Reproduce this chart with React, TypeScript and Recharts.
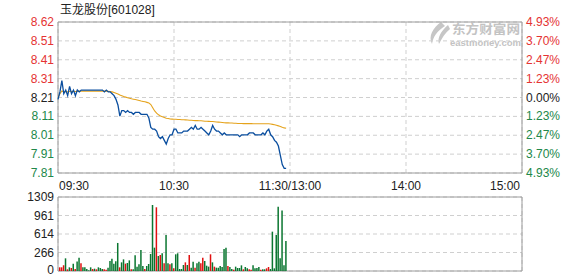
import React from 'react';
import {
  ComposedChart,
  Line,
  Bar,
  Cell,
  XAxis,
  YAxis,
  CartesianGrid,
  ReferenceArea,
} from 'recharts';

// ---- stock info ----
const stockName = '玉龙股份';
const stockCode = '601028';
const prevClose = 8.21;
const maxPct = 4.93;

// ---- axis labels ----
const priceLabels = ['8.62', '8.51', '8.41', '8.31', '8.21', '8.11', '8.01', '7.91', '7.81'];
const pctLabels = ['4.93%', '3.70%', '2.47%', '1.23%', '0.00%', '1.23%', '2.47%', '3.70%', '4.93%'];
const timeLabels = ['09:30', '10:30', '11:30/13:00', '14:00', '15:00'];
const timeTickIndex = [0, 60, 120, 180, 240];
const volLabels = ['0', '266', '614', '961', '1309'];
const volMax = 1309;
const totalMinutes = 240;

// ---- minute price (from 09:30) ----
const price = [
  8.20, 8.24, 8.30, 8.23, 8.25, 8.22, 8.27, 8.23, 8.25, 8.22,
  8.25, 8.24, 8.25, 8.25, 8.25, 8.25, 8.25, 8.25, 8.25, 8.25,
  8.25, 8.25, 8.25, 8.25, 8.24, 8.25, 8.24, 8.24, 8.23, 8.22,
  8.20, 8.17, 8.11, 8.14, 8.14, 8.13, 8.14, 8.13, 8.13, 8.12,
  8.13, 8.13, 8.13, 8.12, 8.12, 8.12, 8.12, 8.10, 8.05, 8.04,
  8.04, 8.03, 8.00, 7.99, 8.00, 7.98, 7.96, 7.99, 8.01, 8.01,
  8.04, 8.04, 8.02, 8.02, 8.02, 8.03, 8.03, 8.03, 8.04, 8.05,
  8.04, 8.06, 8.04, 8.04, 8.05, 8.04, 8.03, 8.02, 8.01, 8.03,
  8.06, 8.04, 8.03, 8.03, 8.02, 8.01, 8.02, 8.01, 8.01, 8.01,
  8.01, 8.01, 8.01, 8.01, 8.00, 8.01, 8.01, 8.01, 8.01, 8.02,
  8.02, 8.02, 8.01, 8.01, 8.01, 8.01, 8.02, 8.01, 8.03, 8.04,
  8.01, 8.00, 7.98, 7.97, 7.95, 7.90, 7.85, 7.83, 7.83,
];

// ---- average price ----
const avgPrice = [
  8.210, 8.230, 8.245, 8.240, 8.242, 8.240, 8.243, 8.242, 8.243, 8.242,
  8.243, 8.244, 8.244, 8.244, 8.244, 8.244, 8.244, 8.244, 8.244, 8.244,
  8.244, 8.244, 8.244, 8.244, 8.244, 8.244, 8.243, 8.242, 8.240, 8.237,
  8.233, 8.229, 8.223, 8.219, 8.215, 8.212, 8.209, 8.206, 8.203, 8.201,
  8.199, 8.197, 8.194, 8.191, 8.189, 8.187, 8.184, 8.181, 8.172, 8.155,
  8.138, 8.126, 8.117, 8.111, 8.107, 8.103, 8.099, 8.097, 8.095, 8.094,
  8.093, 8.093, 8.092, 8.092, 8.091, 8.091, 8.090, 8.089, 8.088, 8.088,
  8.087, 8.086, 8.086, 8.085, 8.085, 8.084, 8.083, 8.083, 8.082, 8.081,
  8.081, 8.080, 8.079, 8.078, 8.077, 8.076, 8.075, 8.074, 8.074, 8.073,
  8.073, 8.072, 8.072, 8.071, 8.071, 8.071, 8.070, 8.070, 8.070, 8.070,
  8.070, 8.069, 8.069, 8.069, 8.069, 8.069, 8.069, 8.069, 8.069, 8.069,
  8.068, 8.066, 8.064, 8.061, 8.058, 8.054, 8.050, 8.047, 8.045,
];

// ---- minute volume (from 09:31) ----
const volume = [
  65, 65, 100, 224, 30, 65, 53, 130, 35, 170,
  236, 136, 65, 65, 35, 12, 65, 35, 41, 30,
  65, 53, 35, 30, 24, 59, 177, 218, 130, 171,
  496, 65, 153, 206, 130, 142, 188, 30, 30, 277,
  77, 118, 372, 89, 35, 89, 124, 301, 1168, 413,
  1127, 265, 283, 313, 136, 637, 136, 118, 136, 47,
  295, 313, 35, 35, 106, 153, 106, 283, 59, 165,
  59, 136, 165, 136, 236, 177, 94, 77, 295, 153,
  77, 59, 59, 89, 71, 389, 413, 89, 71, 35,
  24, 77, 53, 53, 100, 30, 71, 47, 30, 24,
  100, 47, 53, 71, 24, 30, 30, 47, 71, 35,
  696, 47, 637, 1138, 224, 1068, 100, 531,
];

// 1 = up minute (red), 0 = down minute (green)
const volUp = [
  1, 1, 1, 0, 1, 0, 1, 0, 1, 0,
  0, 1, 0, 0, 0, 0, 0, 1, 0, 1,
  0, 0, 0, 1, 1, 0, 0, 0, 0, 0,
  0, 1, 0, 0, 1, 0, 0, 1, 0, 0,
  0, 0, 0, 0, 1, 0, 0, 0, 0, 0,
  1, 0, 1, 0, 1, 0, 0, 1, 0, 1,
  0, 0, 0, 0, 0, 1, 0, 1, 0, 0,
  1, 0, 0, 1, 1, 0, 0, 0, 1, 0,
  1, 0, 0, 0, 0, 0, 0, 1, 0, 0,
  1, 0, 0, 0, 0, 1, 0, 0, 1, 1,
  0, 0, 0, 0, 1, 0, 0, 1, 1, 0,
  0, 0, 0, 0, 0, 0, 0, 0,
];

// ---- palette ----
const RED = '#e53333';
const GREEN = '#21884a';
const DARK = '#222222';
const BAR_RED = '#e01010';
const BAR_GREEN = '#0a7630';
const GRID = '#cfcfcf';
const FRAME = '#9c9c9c';
const FONT = 'Arial, "Liberation Sans", sans-serif';
const CJK = '"Noto Sans CJK SC", "Noto Sans", sans-serif';

// ---- derived scales ----
const span = (prevClose * maxPct) / 100;
const priceHi = prevClose + span;
const priceLo = prevClose - span;
const priceStep = (priceHi - priceLo) / (priceLabels.length - 1);
const priceTicks = priceLabels.map((_, k) => priceHi - k * priceStep);
const volStep = volMax / (volLabels.length - 1);
const volTicks = volLabels.map((_, k) => k * volStep);

const lineRows = price.map((p, t) => ({ t, price: p, avg: avgPrice[t] }));
const volRows = volume.map((v, k) => ({ t: k + 1, vol: v, up: volUp[k] === 1 }));

const PriceTick = (props: any) => {
  const { y, payload } = props;
  const k = Math.round((priceHi - payload.value) / priceStep);
  const color = k < 4 ? RED : k === 4 ? DARK : GREEN;
  return (
    <g>
      <text x={54} y={y + 4} textAnchor="end" fill={color} fontSize={12} fontFamily={FONT}>
        {priceLabels[k]}
      </text>
      <text x={526} y={y + 4} textAnchor="start" fill={color} fontSize={12} fontFamily={FONT}>
        {pctLabels[k]}
      </text>
    </g>
  );
};

const TimeTick = (props: any) => {
  const { x, payload } = props;
  const k = timeTickIndex.indexOf(payload.value);
  const last = timeLabels.length - 1;
  const anchor = k === 0 ? 'start' : k === last ? 'end' : 'middle';
  const dx = k === 0 ? 1 : k === last ? -2 : 0;
  return (
    <text x={x + dx} y={190} textAnchor={anchor} fill={DARK} fontSize={12} fontFamily={FONT}>
      {timeLabels[k]}
    </text>
  );
};

const VolTick = (props: any) => {
  const { y, payload } = props;
  const k = Math.round(payload.value / volStep);
  const dy = k === 0 ? 3 : 4;
  return (
    <text x={54} y={y + dy} textAnchor="end" fill={DARK} fontSize={12} fontFamily={FONT}>
      {volLabels[k]}
    </text>
  );
};

export default function App() {
  return (
    <div
      style={{
        position: 'absolute',
        left: 0,
        top: 0,
        width: 578,
        height: 276,
        background: '#ffffff',
        overflow: 'hidden',
      }}
    >
      {/* title and watermark */}
      <svg width={578} height={276} style={{ position: 'absolute', left: 0, top: 0 }}>
        <text x={60} y={14} fontSize={12} fill={DARK} fontFamily={CJK}>
          {stockName}
          <tspan fontFamily={FONT}>[{stockCode}]</tspan>
        </text>
        <g fill="#c6c6c6">
          <path d="M441 22 C433 28 428 36 432 44 C433 37 437 31 445 26 Z" />
          <path d="M448 25 C441 31 437 38 439 44 C442 38 445 33 450 29 Z" />
        </g>
        <text
          x={452}
          y={34}
          fontSize={12.5}
          fontWeight="bold"
          fill="#c3c3c3"
          fontFamily={CJK}
          textLength={68}
          lengthAdjust="spacingAndGlyphs"
        >
          东方财富网
        </text>
        <text
          x={450}
          y={45.5}
          fontSize={8.5}
          fontWeight="bold"
          fill="#c3c3c3"
          fontFamily={FONT}
          textLength={71}
          lengthAdjust="spacingAndGlyphs"
        >
          eastmoney.com
        </text>
      </svg>

      {/* price panel */}
      <div style={{ position: 'absolute', left: 0, top: 0 }}>
        <ComposedChart
          width={578}
          height={200}
          data={lineRows}
          margin={{ top: 22, right: 56, bottom: 7, left: 8 }}
        >
          <CartesianGrid stroke={GRID} strokeDasharray="4 3" />
          <XAxis
            dataKey="t"
            type="number"
            domain={[0, totalMinutes]}
            ticks={timeTickIndex}
            interval={0}
            tickLine={false}
            axisLine={false}
            height={20}
            tick={(p: any) => <TimeTick {...p} />}
          />
          <YAxis
            type="number"
            domain={[priceLo, priceHi]}
            ticks={priceTicks}
            interval={0}
            tickLine={false}
            axisLine={false}
            width={50}
            tick={(p: any) => <PriceTick {...p} />}
          />
          <ReferenceArea
            x1={0}
            x2={totalMinutes}
            y1={priceLo}
            y2={priceHi}
            fill="none"
            stroke={FRAME}
            strokeWidth={1}
            ifOverflow="visible"
          />
          <Line
            dataKey="avg"
            type="linear"
            stroke="#e5a31c"
            strokeWidth={1.1}
            dot={false}
            activeDot={false}
            isAnimationActive={false}
          />
          <Line
            dataKey="price"
            type="linear"
            stroke="#0a4e9f"
            strokeWidth={1.3}
            dot={false}
            activeDot={false}
            isAnimationActive={false}
          />
        </ComposedChart>
      </div>

      {/* volume panel */}
      <div style={{ position: 'absolute', left: 0, top: 176 }}>
        <ComposedChart
          width={578}
          height={100}
          data={volRows}
          margin={{ top: 21, right: 56, bottom: 4, left: 8 }}
        >
          <CartesianGrid stroke={GRID} strokeDasharray="4 3" />
          <XAxis
            dataKey="t"
            type="number"
            domain={[0, totalMinutes]}
            ticks={timeTickIndex}
            interval={0}
            tickLine={false}
            axisLine={false}
            tick={false}
            height={1}
          />
          <YAxis
            type="number"
            domain={[0, volMax]}
            ticks={volTicks}
            interval={0}
            tickLine={false}
            axisLine={false}
            width={50}
            tick={(p: any) => <VolTick {...p} />}
          />
          <Bar dataKey="vol" barSize={1.5} isAnimationActive={false}>
            {volRows.map((r, i) => (
              <Cell key={i} fill={r.up ? BAR_RED : BAR_GREEN} />
            ))}
          </Bar>
          <ReferenceArea
            x1={0}
            x2={totalMinutes}
            y1={0}
            y2={volMax}
            fill="none"
            stroke={FRAME}
            strokeWidth={1}
            ifOverflow="visible"
          />
        </ComposedChart>
      </div>
    </div>
  );
}
